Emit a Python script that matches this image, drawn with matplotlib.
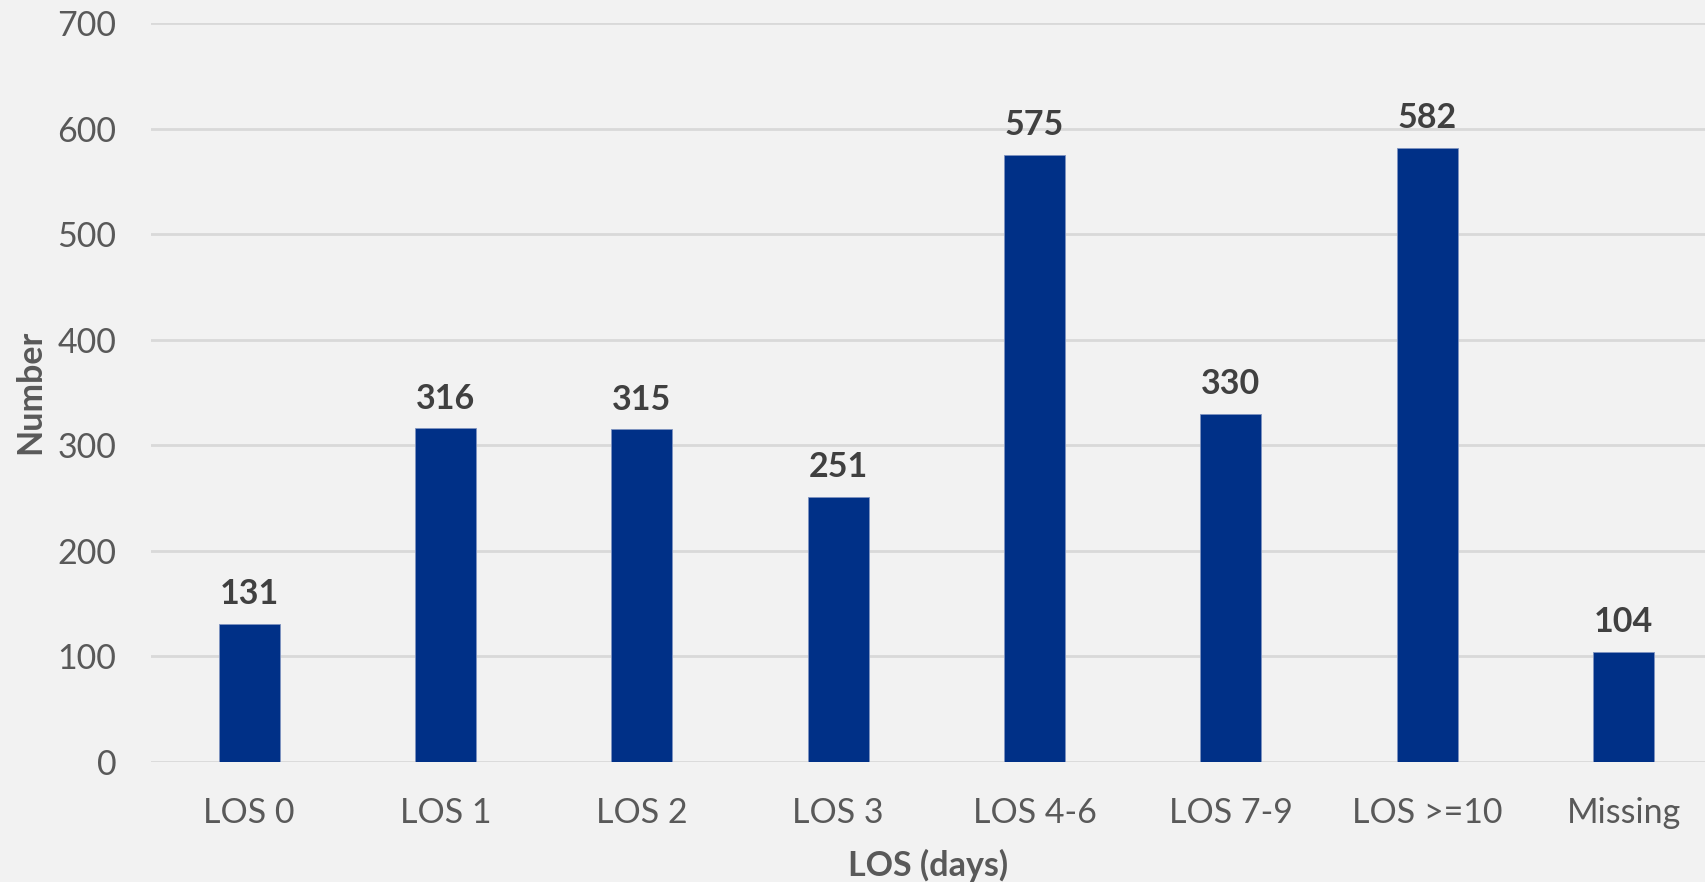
import matplotlib
matplotlib.use("Agg")
import matplotlib.pyplot as plt

categories = ["LOS 0", "LOS 1", "LOS 2", "LOS 3", "LOS 4-6", "LOS 7-9", "LOS >=10", "Missing"]
values = [131, 316, 315, 251, 575, 330, 582, 104]
yticks = [0, 100, 200, 300, 400, 500, 600, 700]

plt.rcParams['font.family'] = ['Lato', 'DejaVu Sans']

W, H = 1706, 882
fig = plt.figure(figsize=(W / 100, H / 100), dpi=100)
fig.patch.set_facecolor('#f2f2f2')
left = 151 / W
bottom = (H - 762) / H
top = (H - 23) / H
ax = fig.add_axes([left, bottom, 1 - left, top - bottom])
ax.set_facecolor('#f2f2f2')

x = list(range(len(categories)))
bars = ax.bar(x, values, width=0.31, color='#003087', edgecolor='#7f93c0', linewidth=0.6, zorder=3)

ax.set_ylim(0, 700)
ax.set_xlim(-0.5, 7.42)
ax.set_yticks(yticks)
ax.set_yticklabels([str(t) for t in yticks])
ax.set_xticks(x)
ax.set_xticklabels(categories)
ax.yaxis.grid(True, color='#d9d9d9', linewidth=2, zorder=0)
ax.xaxis.grid(False)
for s in ax.spines.values():
    s.set_visible(False)
ax.tick_params(axis='both', length=0, labelsize=24.5, labelcolor='#595959')
ax.tick_params(axis='y', pad=25)
ax.tick_params(axis='x', pad=25)

for xi, v in zip(x, values):
    ax.annotate(str(v), (xi, v), xytext=(0, 10), textcoords='offset points',
                ha='center', va='bottom', fontsize=24.5, fontweight='bold', color='#404040')

fig.text(30 / W, 1 - 392 / H, 'Number', rotation=90, ha='center', va='center',
         fontsize=24.5, fontweight='bold', color='#595959')
fig.text((151 + W) / 2 / W, 1 - 865 / H, 'LOS (days)', ha='center', va='center',
         fontsize=24.5, fontweight='bold', color='#595959')

fig.savefig('out.png', dpi=100, facecolor=fig.get_facecolor())
